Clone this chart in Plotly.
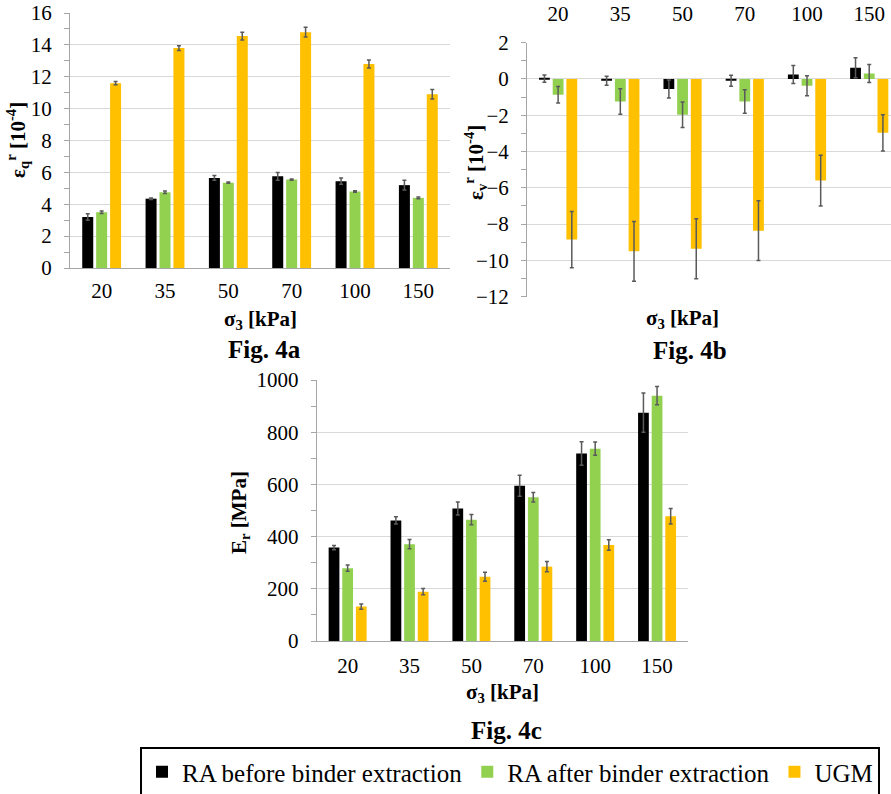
import plotly.graph_objects as go

# ---------------- data ----------------
categories = ["20", "35", "50", "70", "100", "150"]
series_names = ["RA before binder extraction", "RA after binder extraction", "UGM"]

# Fig. 4a  resilient shear strain [1e-4]
eq_before = [3.2, 4.35, 5.65, 5.75, 5.45, 5.2]
eq_before_err = [0.2, 0.05, 0.15, 0.25, 0.2, 0.3]
eq_after = [3.5, 4.75, 5.35, 5.55, 4.8, 4.4]
eq_after_err = [0.08, 0.08, 0.04, 0.04, 0.04, 0.05]
eq_ugm = [11.6, 13.8, 14.55, 14.8, 12.8, 10.9]
eq_ugm_err = [0.1, 0.15, 0.25, 0.3, 0.25, 0.3]

# Fig. 4b  resilient volumetric strain [1e-4]
ev_before = [0.02, -0.1, -0.55, -0.1, 0.25, 0.62]
ev_before_err = [0.2, 0.25, 0.5, 0.3, 0.5, 0.55]
ev_after = [-0.87, -1.24, -1.97, -1.24, -0.37, 0.3]
ev_after_err = [0.46, 0.7, 0.7, 0.65, 0.55, 0.5]
ev_ugm = [-8.85, -9.5, -9.36, -8.36, -5.6, -2.97]
ev_ugm_err = [1.55, 1.65, 1.65, 1.65, 1.4, 1.0]

# Fig. 4c  resilient modulus [MPa]
er_before = [358, 462, 508, 595, 718, 875]
er_before_err = [8, 14, 25, 40, 45, 75]
er_after = [279, 371, 465, 551, 737, 940]
er_after_err = [12, 18, 20, 18, 25, 35]
er_ugm = [132, 189, 246, 285, 368, 478]
er_ugm_err = [10, 12, 17, 20, 20, 30]

# ---------------- style ----------------
W, H = 891, 794
colors = ["#000000", "#92D050", "#FFC000"]
FONT = "Liberation Serif, Times New Roman, serif"
GRID = "#d9d9d9"
AXIS = "#a6a6a6"
ERR = "#5a5a5a"


def px(x):
    return x / W


def py(y):
    return 1 - y / H


fig = go.Figure()

panels = [
    ("x", "y", [eq_before, eq_after, eq_ugm], [eq_before_err, eq_after_err, eq_ugm_err], False),
    ("x2", "y2", [ev_before, ev_after, ev_ugm], [ev_before_err, ev_after_err, ev_ugm_err], False),
    ("x3", "y3", [er_before, er_after, er_ugm], [er_before_err, er_after_err, er_ugm_err], True),
]

for xa, ya, vals, errs, show in panels:
    for name, col, v, e in zip(series_names, colors, vals, errs):
        fig.add_trace(go.Bar(
            x=categories, y=v, name=name, marker=dict(color=col, line=dict(width=0)),
            error_y=dict(type="data", array=e, color=ERR, thickness=1.5, width=2),
            xaxis=xa, yaxis=ya, showlegend=show,
        ))


def tf():
    return dict(family=FONT, size=21, color="#000000")


def yax(domain, anchor, rng, dtick, minor_dtick):
    return dict(domain=domain, anchor=anchor, range=rng, dtick=dtick, automargin=False,
                showgrid=True, gridcolor=GRID, gridwidth=1, zeroline=False,
                showline=True, linecolor=AXIS, linewidth=1,
                ticks="outside", ticklen=5, tickcolor=AXIS, tickwidth=1,
                tickfont=tf(), ticklabelstandoff=8, fixedrange=True,
                minor=dict(dtick=minor_dtick, ticks="outside", ticklen=5,
                           tickcolor=AXIS, tickwidth=1, showgrid=False))


def xax(domain, anchor, rng, side, showline, standoff):
    return dict(domain=domain, anchor=anchor, range=rng, side=side, type="category",
                automargin=False, showgrid=False, zeroline=False, ticks="",
                showline=showline, linecolor=AXIS, linewidth=1,
                tickfont=tf(), ticklabelstandoff=standoff, fixedrange=True)


fig.update_layout(
    template="none",
    width=W, height=H,
    margin=dict(l=0, r=0, t=0, b=0, pad=0, autoexpand=False),
    paper_bgcolor="white", plot_bgcolor="white",
    barmode="group", bargap=0.34, bargroupgap=0.21,
    font=dict(family=FONT, color="#000000"),
    xaxis=xax([px(70), px(450)], "y", [-0.5, 5.5], "bottom", True, 4),
    yaxis=yax([py(268), py(13)], "x", [0, 16], 2, 1),
    xaxis2=xax([px(527), 1.0], "y2", [-0.5, 5.35], "top", False, 17),
    yaxis2=yax([py(296.7), py(42.7)], "x2", [-12, 2], 2, 1),
    xaxis3=xax([px(316.7), px(688)], "y3", [-0.5, 5.5], "bottom", True, 6),
    yaxis3=yax([py(641), py(380)], "x3", [0, 1000], 200, 100),
    legend=dict(orientation="h", x=px(140), y=py(747), xanchor="left", yanchor="top",
                bgcolor="white", bordercolor="#000000", borderwidth=2,
                font=dict(family=FONT, size=25, color="#000000"), traceorder="normal"),
)

ann_title = dict(family=FONT, size=21, color="#000000")
ann_fig = dict(family=FONT, size=25, color="#000000")


def note(text, x, y, font, angle=0):
    fig.add_annotation(text=text, x=px(x), y=py(y), xref="paper", yref="paper",
                       showarrow=False, font=font, textangle=angle,
                       xanchor="center", yanchor="middle")


# axis titles
note("<b>σ<sub>3</sub> [kPa]</b>", 260, 320, ann_title)
note("<b>σ<sub>3</sub> [kPa]</b>", 682, 319, ann_title)
note("<b>σ<sub>3</sub> [kPa]</b>", 502, 693, ann_title)
note("<b>ε<sub>q</sub><sup>r</sup> [10<sup>-4</sup>]</b>", 18, 140, ann_title, -90)
note("<b>ε<sub>v</sub><sup>r</sup> [10<sup>-4</sup>]</b>", 475, 163, ann_title, -90)
note("<b>E<sub>r</sub> [MPa]</b>", 240, 513, ann_title, -90)

# figure labels
note("<b>Fig. 4a</b>", 264, 349, ann_fig)
note("<b>Fig. 4b</b>", 690, 350, ann_fig)
note("<b>Fig. 4c</b>", 507, 730, ann_fig)

fig.write_html("out.html", config={"displayModeBar": False},
               post_script="document.body.style.margin='0';document.body.style.overflow='hidden';")
